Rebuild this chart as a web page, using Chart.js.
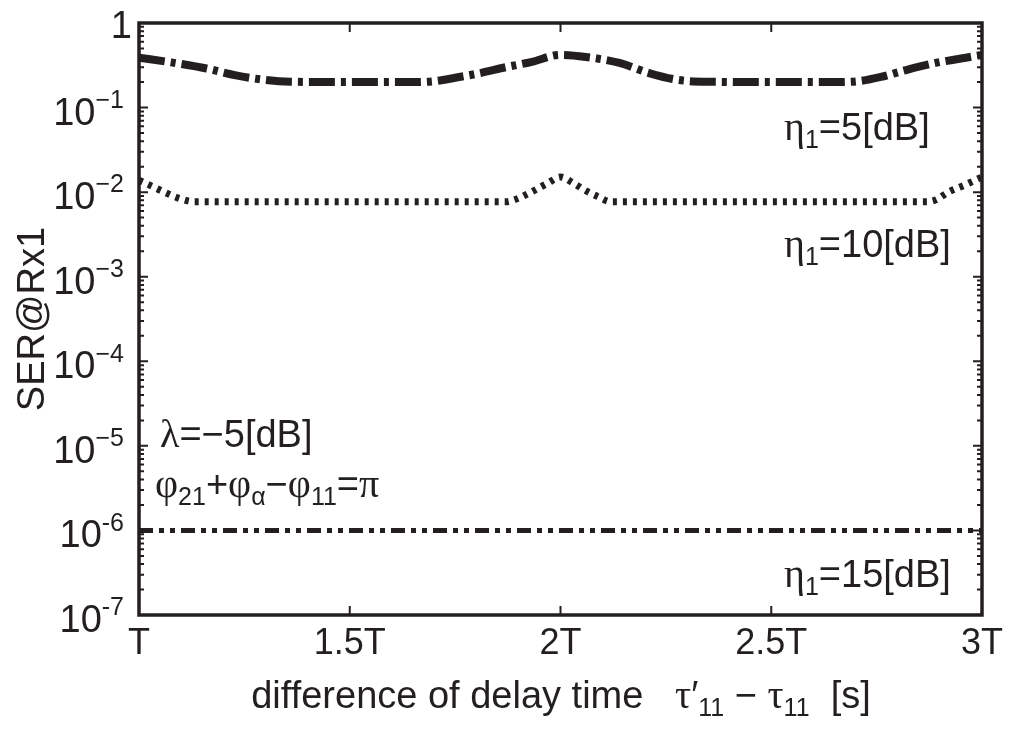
<!DOCTYPE html>
<html>
<head>
<meta charset="utf-8">
<title>SER vs delay difference</title>
<script src="https://cdn.jsdelivr.net/npm/chart.js@4.4.0/dist/chart.umd.min.js"></script>
<style>
  html, body { margin: 0; padding: 0; background: #fff; }
  #wrap { width: 1011px; height: 729px; }
</style>
</head>
<body>
<div id="wrap"><canvas id="serChart" width="1011" height="729"></canvas></div>
<script>
// ----------------------------------------
// Data: delay difference in units of T, SER at Rx1
// ----------------------------------------
const delay5 = [1.00, 1.08, 1.16, 1.23, 1.30, 1.36, 1.50, 1.64, 1.70, 1.75, 1.81, 1.87, 1.93, 2.00,
                2.06, 2.14, 2.21, 2.28, 2.35, 2.50, 2.66, 2.71, 2.76, 2.82, 2.89, 2.95, 3.00];
const ser5 = [0.39, 0.34, 0.29, 0.24, 0.212, 0.202, 0.2, 0.2, 0.205, 0.225, 0.256, 0.30, 0.345, 0.42,
              0.397, 0.337, 0.256, 0.212, 0.202, 0.2, 0.2, 0.206, 0.23, 0.278, 0.337, 0.38, 0.42];

const delay10 = [1.00, 1.03, 1.06, 1.10, 1.13, 1.50, 1.87, 1.89, 1.93, 1.97, 2.00,
                 2.03, 2.06, 2.09, 2.12, 2.50, 2.87, 2.89, 2.92, 2.96, 3.00];
const ser10 = [0.0138, 0.0118, 0.0100, 0.0083, 0.0077, 0.0077, 0.0077, 0.0081, 0.0100, 0.0128, 0.0151,
               0.0128, 0.0104, 0.0088, 0.0077, 0.0077, 0.0077, 0.0081, 0.0100, 0.0122, 0.0151];

const delay15 = [1.0, 1.5, 2.0, 2.5, 3.0];
const ser15 = [1e-6, 1e-6, 1e-6, 1e-6, 1e-6];

const xTicks = [1, 1.5, 2, 2.5, 3];
const xTickLabels = ['T', '1.5T', '2T', '2.5T', '3T'];
const yDecades = [0, -1, -2, -3, -4, -5, -6, -7];
const yExponents = ['', '\u22121', '\u22122', '\u22123', '\u22124', '\u22125', '-6', '-7'];

const ink = '#231f20';
const sans = '"Liberation Sans", Arial, Helvetica, sans-serif';
const serif = '"Liberation Serif", "Times New Roman", serif';
const fontSize = 38;

function toPoints(xs, ys) {
    return xs.map((x, i) => ({ x: x, y: ys[i] }));
}

// ----------------------------------------
// Text with sub/superscripts and greek letters
// parts: plain string, or [text, kind] with kind 'g' | 'sub' | 'sup'
// ----------------------------------------
function partFont(kind, size) {
    if (kind === 'g') return `${size + 2}px ${serif}`;
    if (kind === 'sub' || kind === 'sup') return `${Math.round(size * 0.66)}px ${sans}`;
    return `${size}px ${sans}`;
}

function drawRich(ctx, parts, x, y, align, size) {
    const items = parts.map(p => Array.isArray(p) ? { t: p[0], k: p[1] } : { t: p, k: '' });
    let total = 0;
    items.forEach(it => {
        ctx.font = partFont(it.k, size);
        it.w = ctx.measureText(it.t).width;
        total += it.w;
    });
    let cx = align === 'center' ? x - total / 2 : (align === 'right' ? x - total : x);
    ctx.textAlign = 'left';
    ctx.textBaseline = 'alphabetic';
    items.forEach(it => {
        ctx.font = partFont(it.k, size);
        let dy = 0;
        if (it.k === 'sub') dy = size * 0.2;
        if (it.k === 'sup') dy = -size * 0.44;
        ctx.fillText(it.t, cx, y + dy);
        cx += it.w;
    });
}

// ----------------------------------------
// Frame, inward ticks, log labels, titles and curve notes
// ----------------------------------------
const framePlugin = {
    id: 'framePlugin',
    afterDraw(chart) {
        const { ctx, chartArea: a, scales } = chart;
        const xs = scales.x, ys = scales.y;
        ctx.save();
        ctx.strokeStyle = ink;
        ctx.fillStyle = ink;

        // box
        ctx.lineWidth = 3.5;
        ctx.strokeRect(a.left, a.top, a.right - a.left, a.bottom - a.top);

        // x ticks, top and bottom, pointing in
        ctx.lineWidth = 2;
        xTicks.forEach(v => {
            const px = xs.getPixelForValue(v);
            ctx.beginPath();
            ctx.moveTo(px, a.bottom); ctx.lineTo(px, a.bottom - 9);
            ctx.moveTo(px, a.top); ctx.lineTo(px, a.top + 9);
            ctx.stroke();
        });

        // y ticks (major + minor), left and right
        yDecades.forEach(d => {
            const base = Math.pow(10, d);
            for (let k = 1; k <= 9; k++) {
                const v = base * k;
                if (v > 1) continue;
                const py = ys.getPixelForValue(v);
                const len = k === 1 ? 9 : 5;
                ctx.beginPath();
                ctx.moveTo(a.left, py); ctx.lineTo(a.left + len, py);
                ctx.moveTo(a.right, py); ctx.lineTo(a.right - len, py);
                ctx.stroke();
            }
        });

        // y tick labels: 1, 10^-1 ... 10^-7
        yDecades.forEach((d, i) => {
            const py = ys.getPixelForValue(Math.pow(10, d));
            if (d === 0) {
                drawRich(ctx, ['1'], 132, py + 15, 'right', fontSize);
            } else {
                drawRich(ctx, ['10', [yExponents[i], 'sup']], 124, py + 17, 'right', fontSize);
            }
        });

        // y title
        ctx.save();
        ctx.translate(44, (a.top + a.bottom) / 2);
        ctx.rotate(-Math.PI / 2);
        drawRich(ctx, ['SER@Rx1'], 0, 0, 'center', fontSize);
        ctx.restore();

        // x title
        drawRich(ctx, ['difference of delay time   ', ['\u03c4', 'g'], '\u2032', ['11', 'sub'], ' \u2212 ',
                       ['\u03c4', 'g'], ['11', 'sub'], '  [s]'], 561, 708, 'center', fontSize);

        // curve notes
        const eta = (db) => [['\u03b7', 'g'], ['1', 'sub'], '=' + db + '[dB]'];
        drawRich(ctx, eta(5), 784, 140, 'left', fontSize);
        drawRich(ctx, eta(10), 784, 257, 'left', fontSize);
        drawRich(ctx, eta(15), 784, 587, 'left', fontSize);
        drawRich(ctx, [['\u03bb', 'g'], '=\u22125[dB]'], 160, 447, 'left', fontSize);
        drawRich(ctx, [['\u03c6', 'g'], ['21', 'sub'], '+', ['\u03c6', 'g'], ['\u03b1', 'sub'], '\u2212',
                       ['\u03c6', 'g'], ['11', 'sub'], '=', ['\u03c0', 'g']], 155, 497, 'left', fontSize);

        ctx.restore();
    }
};

const lineStyle = {
    borderColor: ink,
    pointRadius: 0,
    fill: false,
    borderCapStyle: 'butt',
    cubicInterpolationMode: 'monotone'
};

new Chart(document.getElementById('serChart'), {
    type: 'line',
    data: {
        datasets: [
            Object.assign({ label: 'eta1=5dB', data: toPoints(delay5, ser5), borderWidth: 8, borderDash: [26, 6, 5, 6] }, lineStyle),
            Object.assign({ label: 'eta1=10dB', data: toPoints(delay10, ser10), borderWidth: 7, borderDash: [4, 6] }, lineStyle),
            Object.assign({ label: 'eta1=15dB', data: toPoints(delay15, ser15), borderWidth: 5, borderDash: [14, 6, 5, 6, 5, 6] }, lineStyle)
        ]
    },
    options: {
        responsive: false,
        animation: false,
        events: [],
        layout: { padding: { top: 23, right: 29, left: 0, bottom: 0 } },
        plugins: {
            legend: { display: false },
            tooltip: { enabled: false }
        },
        scales: {
            x: {
                type: 'linear',
                min: 1,
                max: 3,
                afterBuildTicks: (s) => { s.ticks = xTicks.map(v => ({ value: v })); },
                afterFit: (s) => { s.height = 114; },
                ticks: {
                    autoSkip: false,
                    maxRotation: 0,
                    padding: 7,
                    color: ink,
                    font: { family: sans, size: 36 },
                    callback: (v) => xTickLabels[xTicks.indexOf(v)]
                },
                grid: { display: false, drawTicks: false },
                border: { display: false }
            },
            y: {
                type: 'logarithmic',
                min: 1e-7,
                max: 1,
                afterFit: (s) => { s.width = 139; },
                ticks: { display: false },
                grid: { display: false },
                border: { display: false }
            }
        }
    },
    plugins: [framePlugin]
});
</script>
</body>
</html>
